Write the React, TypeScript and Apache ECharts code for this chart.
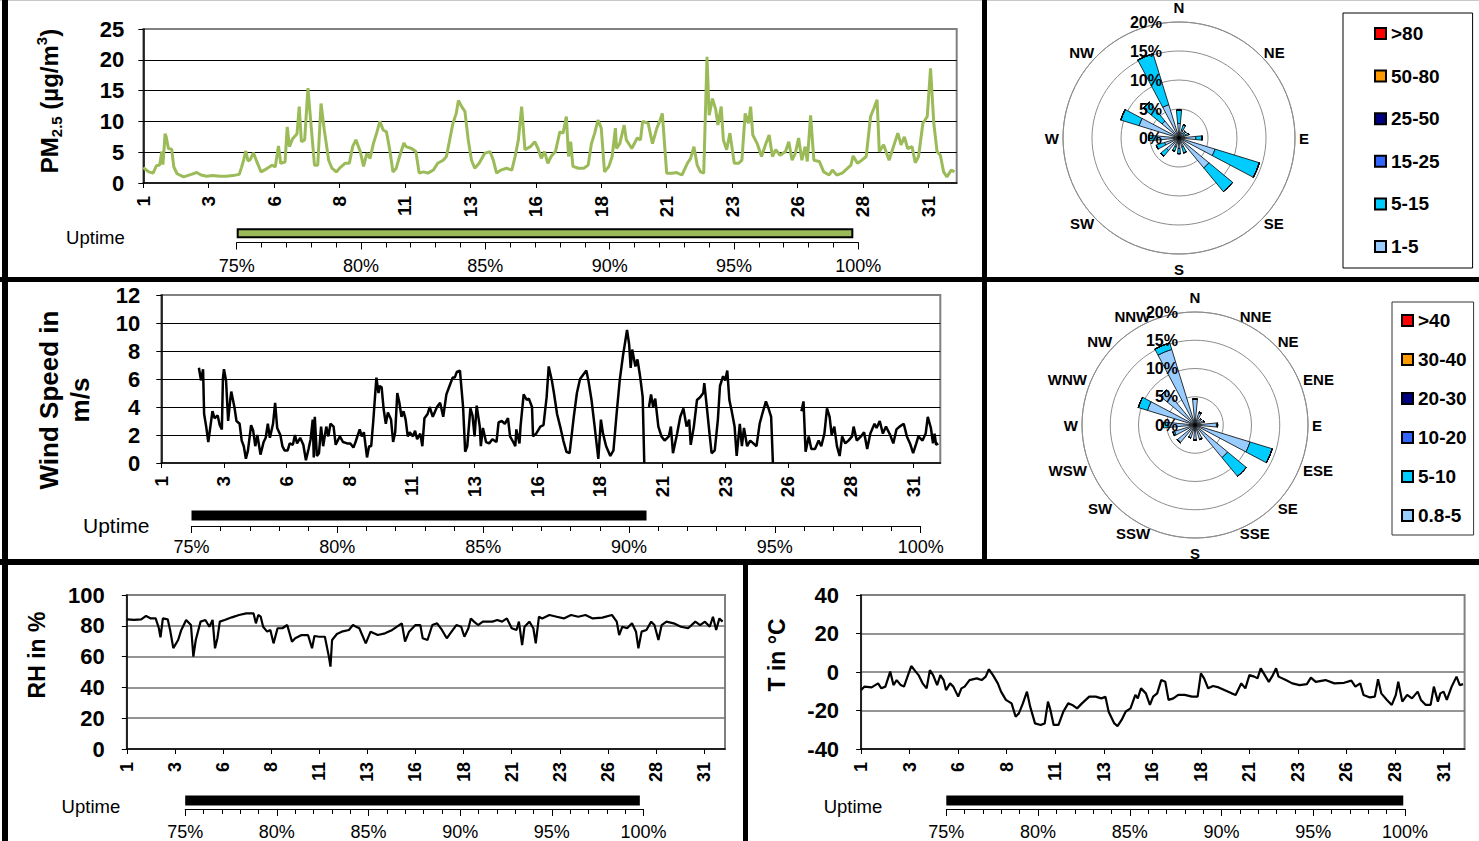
import React, { useEffect, useRef } from 'react';
import * as echarts from 'echarts';

const FONT = '"Liberation Sans", Arial, Helvetica, sans-serif';
const X_MAX = 746;
const UPTIME_MIN = 75;
const dayTicks = ['1', '3', '6', '8', '11', '13', '16', '18', '21', '23', '26', '28', '31'];

// PM2.5 (µg/m³), hour of month -> value
const pmHours = [0, 5, 9, 12, 15, 17, 18, 20, 21, 23, 26, 28, 31, 37, 44, 49, 53, 58, 64, 70, 76, 82, 88, 90, 92, 94, 96, 98, 101, 104, 108, 113, 118, 121, 124, 126, 130, 132, 134, 137, 141, 143, 145, 148, 151, 154, 157, 160, 163, 166, 170, 173, 177, 180, 185, 189, 192, 195, 199, 202, 205, 208, 211, 214, 217, 220, 223, 226, 229, 232, 235, 239, 241, 246, 250, 253, 257, 261, 266, 270, 275, 278, 281, 284, 287, 289, 292, 295, 298, 301, 304, 308, 313, 318, 321, 324, 328, 333, 338, 341, 344, 347, 350, 355, 359, 362, 365, 368, 371, 374, 378, 382, 385, 388, 390, 392, 394, 399, 404, 408, 411, 414, 417, 420, 423, 427, 430, 433, 434, 437, 441, 443, 448, 453, 456, 458, 463, 467, 471, 474, 476, 480, 485, 489, 494, 499, 502, 505, 508, 511, 514, 517, 519, 522, 525, 527, 530, 532, 535, 538, 542, 546, 549, 552, 555, 557, 559, 563, 567, 571, 574, 577, 580, 584, 589, 592, 595, 598, 601, 604, 607, 609, 612, 615, 620, 624, 629, 632, 636, 641, 646, 649, 651, 655, 659, 663, 667, 670, 673, 675, 679, 684, 688, 692, 695, 698, 701, 705, 708, 711, 715, 719, 722, 725, 728, 731, 734, 737, 741, 744];
const pmValues = [2.5, 1.8, 1.6, 2.8, 2.9, 5.1, 3.0, 8.0, 7.5, 5.6, 5.5, 2.6, 1.5, 1.0, 1.4, 1.7, 1.3, 1.1, 1.2, 1.1, 1.1, 1.2, 1.4, 2.5, 3.7, 5.2, 3.6, 3.8, 4.9, 3.5, 1.8, 2.3, 2.9, 2.6, 6.0, 3.2, 3.4, 9.1, 5.9, 7.2, 8.0, 12.4, 6.7, 7.0, 15.4, 9.1, 2.9, 2.9, 12.9, 8.6, 3.7, 2.4, 1.8, 2.4, 3.2, 3.2, 5.9, 7.0, 5.1, 2.7, 4.8, 4.0, 6.4, 8.1, 10.0, 8.6, 8.3, 5.4, 1.8, 2.4, 4.3, 6.5, 5.9, 5.6, 5.1, 1.6, 1.8, 1.6, 2.1, 3.2, 3.7, 4.3, 7.0, 9.7, 11.3, 13.4, 12.4, 11.6, 7.0, 3.7, 2.4, 3.2, 4.8, 5.1, 3.7, 1.6, 2.1, 2.4, 2.1, 4.3, 7.0, 12.4, 5.4, 5.9, 6.7, 5.6, 4.0, 5.1, 3.2, 4.3, 5.1, 8.3, 8.1, 10.8, 4.3, 6.7, 2.7, 2.4, 2.4, 2.9, 6.4, 8.1, 10.2, 8.9, 1.8, 2.7, 4.3, 8.9, 5.6, 6.4, 9.4, 7.0, 5.6, 7.3, 7.0, 10.0, 9.7, 6.4, 8.9, 10.2, 11.3, 1.6, 1.6, 1.7, 1.3, 3.2, 4.0, 5.9, 2.9, 1.8, 1.6, 20.5, 11.0, 13.7, 11.9, 9.4, 12.4, 7.0, 5.4, 8.1, 3.2, 3.2, 3.7, 11.3, 9.7, 12.4, 7.8, 6.4, 4.3, 6.4, 7.8, 4.3, 5.4, 4.5, 5.1, 6.7, 3.7, 4.8, 7.3, 3.7, 5.9, 3.5, 11.0, 3.7, 3.5, 1.8, 1.3, 2.1, 1.3, 1.6, 2.4, 2.9, 4.4, 3.2, 3.7, 4.3, 10.8, 12.1, 13.5, 5.1, 6.2, 3.7, 5.9, 8.1, 6.2, 7.5, 5.6, 5.9, 3.3, 4.3, 9.7, 10.8, 18.6, 9.7, 5.1, 4.5, 1.8, 1.0, 2.1, 1.8];

// Wind speed (m/s); null = no data
const windHours = [36, 38, 40, 41, 43, 45, 47, 49, 51, 54, 56, 58, 59, 60, 62, 64, 66, 67, 70, 72, 75, 77, 79, 81, 83, 86, 88, 90, 92, 95, 98, 100, 102, 104, 107, 109, 111, 114, 116, 118, 121, 123, 126, 128, 130, 133, 136, 138.5, 141, 143, 145, 146, 147, 149, 151, 153, 155, 158, 160, 162, 165, 167, 171, 174, 178, 181, 184, 186, 190, 192, 194, 197, 199, 201, 203, 205, 206, 208, 209, 211, 213, 215, 217, 220, 222, 224, 226, 228, 230, 232, 234, 236, 238, 241, 243, 245, 248, 250, 252, 255, 257, 260, 264, 267, 270, 273, 276, 279, 281, 283, 286, 289, 291, 293, 296, 298, 300, 302, 305, 306, 308, 311, 314, 317, 321, 323, 326, 329, 332, 334, 337, 339, 340, 343, 344, 347, 350, 352, 355, 356, 359, 363, 366, 369, 371, 374, 376, 379, 382, 385, 388, 391, 395, 398, 401, 404, 407, 409, 412, 415, 418.5, 421, 423, 426, 430, 433, 436, 439, 442, 446, 448, 449.5, 451, 454, 456, 458.5, 461, 462.5, 465, 467, 469, 471, 473, 476, 479, 482, 486, 488, 490, 494, 497, 500, 503, 505.5, 507, 510, 513, 516, 519, 520, 522, 525, 527, 530, 533, 535, 538, 540, 542, 544, 546, 549, 551, 554, 556, 558, 561, 564, 567, 570, 573, 575.5, 579, 581.5, 584, 585.7, 600, 613, 615, 617, 620, 622.5, 626, 629.5, 632, 635, 637.5, 640, 642, 644.5, 647, 649.6, 652, 655, 658, 661.5, 663, 666, 670, 673, 676, 679, 683, 685, 688, 691, 694, 698, 701, 704, 707, 711, 714, 717, 720, 723, 725, 729, 732, 734, 737, 739, 740.5, 742, 744];
const windValues = [6.8, 5.9, 6.7, 3.5, 2.6, 1.5, 2.6, 3.7, 3.2, 3.4, 2.7, 2.4, 6.0, 6.7, 5.9, 3.0, 4.5, 5.1, 4.0, 3.0, 2.8, 1.6, 1.2, 0.3, 0.9, 2.7, 2.3, 1.2, 2.0, 0.6, 1.5, 1.8, 2.8, 1.8, 2.8, 4.3, 2.5, 2.0, 1.2, 0.9, 0.9, 1.4, 1.3, 2.0, 1.4, 1.8, 1.3, 0.2, 1.0, 1.7, 3.1, 0.4, 3.3, 0.5, 0.7, 2.6, 1.2, 2.6, 1.9, 2.8, 2.6, 1.3, 1.9, 1.5, 1.4, 1.4, 1.1, 1.5, 2.4, 1.9, 2.2, 0.4, 1.2, 1.2, 3.0, 5.1, 6.1, 5.0, 5.5, 5.4, 3.8, 2.8, 3.6, 3.1, 1.5, 2.2, 5.0, 4.3, 3.3, 3.7, 3.1, 1.9, 2.2, 1.9, 2.3, 1.7, 2.1, 1.2, 3.2, 3.5, 4.0, 3.3, 4.0, 4.3, 3.3, 4.9, 5.5, 6.1, 6.1, 6.5, 6.6, 4.0, 0.8, 1.2, 3.9, 3.4, 1.9, 4.1, 2.6, 1.2, 2.5, 1.5, 1.4, 1.7, 1.5, 2.9, 3.0, 2.8, 3.2, 1.9, 1.5, 1.2, 2.4, 1.4, 2.6, 4.9, 4.5, 4.6, 4.0, 1.9, 2.1, 2.6, 2.7, 4.7, 6.9, 5.9, 5.0, 3.5, 2.6, 1.6, 0.8, 0.7, 3.3, 5.0, 6.0, 6.3, 6.6, 5.9, 4.5, 2.6, 0.3, 3.1, 2.1, 1.2, 0.5, 0.9, 3.5, 5.9, 7.6, 9.5, 8.5, 6.8, 8.1, 6.9, 7.4, 6.2, 4.7, 0, null, 4.0, 4.9, 4.0, 4.6, 2.6, 1.9, 1.6, 1.9, 2.6, 0.7, 2.1, 3.3, 3.9, 2.6, 3.1, 1.3, 2.6, 4.5, 4.7, 5.0, 5.7, 4.3, 2.1, 0.7, 0.9, 3.1, 5.5, 6.2, 5.9, 6.6, 4.5, 3.8, 2.6, 0.5, 2.8, 1.2, 2.5, 1.2, 1.6, 1.4, 1.2, 2.8, 3.5, 4.4, 3.9, 3.3, 0, null, 3.7, 4.4, 0.8, 1.9, 1.0, 1.0, 1.6, 1.2, 2.1, 3.9, 3.3, 2.0, 2.6, 1.2, 0.5, 1.9, 1.4, 1.6, 1.9, 2.6, 1.6, 1.9, 2.2, 1.0, 2.1, 2.8, 2.5, 3.0, 2.1, 2.6, 2.0, 1.4, 2.4, 2.6, 2.8, 1.9, 1.4, 0.7, 1.4, 1.9, 1.6, 2.1, 3.3, 2.5, 1.4, 2.1, 1.3, 1.4];

// Relative humidity (%)
const rhHours = [0, 9, 18, 24, 30, 36, 40, 42, 45, 51, 54, 58, 64, 68, 74, 80, 83, 86, 92, 98, 103, 107, 110, 113, 116, 122, 131, 140, 149, 158, 161, 164, 167, 170, 175, 179, 183, 188, 194, 200, 206, 210, 218, 226, 231, 234, 240, 247, 252, 254, 256, 262, 268, 277, 282, 286, 290, 298, 304, 313, 322, 331, 343, 347, 352, 360, 366, 369, 375, 381, 387, 393, 399, 405, 411, 417, 421, 426, 429, 433, 438, 444, 450, 456, 462, 468, 474, 480, 486, 489, 493, 496, 502, 507, 510, 514, 518, 527, 536, 545, 554, 563, 572, 581, 593, 605, 611, 614, 618, 624, 630, 635, 638, 642, 648, 654, 658, 663, 667, 673, 682, 691, 700, 709, 715, 721, 727, 731, 735, 739, 743];
const rhValues = [84.2, 83.8, 84.2, 86.4, 84.8, 84.8, 78.4, 72.5, 84.8, 84.2, 77.3, 65.5, 70.8, 77.3, 83.8, 80.5, 60.0, 70.8, 82.7, 83.8, 79.4, 83.8, 65.4, 71.9, 82.7, 83.8, 85.5, 87.0, 88.1, 88.1, 81.6, 87.0, 85.9, 79.4, 76.2, 77.3, 68.6, 78.4, 78.4, 80.5, 69.7, 71.9, 74.0, 74.0, 65.4, 73.4, 72.9, 72.9, 60.0, 53.5, 70.8, 74.7, 76.2, 77.3, 80.5, 79.4, 78.4, 68.6, 76.2, 74.0, 75.1, 77.3, 81.6, 69.7, 76.2, 80.5, 80.5, 71.9, 70.8, 80.5, 81.6, 77.3, 71.9, 76.2, 80.5, 79.4, 72.9, 78.4, 84.8, 82.7, 80.5, 82.7, 82.7, 82.7, 83.8, 82.7, 84.8, 78.4, 77.3, 82.7, 67.5, 79.4, 82.7, 78.4, 68.6, 85.9, 84.8, 87.0, 85.9, 84.8, 87.0, 85.9, 87.0, 84.8, 85.3, 87.0, 82.7, 74.0, 79.4, 78.4, 81.6, 76.2, 65.4, 76.2, 77.3, 82.7, 80.5, 70.8, 80.5, 82.7, 81.6, 79.4, 78.4, 82.7, 80.5, 82.7, 79.4, 85.9, 77.3, 84.8, 82.7];

// Temperature (°C)
const tHours = [0, 4, 13, 21, 25, 30, 36, 40, 44, 49, 53, 58, 62, 66, 71, 76, 81, 85, 89, 94, 98, 102, 105, 110, 114, 120, 124, 128, 134, 143, 149, 154, 158, 163, 169, 173, 179, 186, 191, 195, 200, 205, 209, 215, 222, 227, 231, 234, 238, 244, 250, 256, 261, 267, 273, 282, 290, 297, 302, 306, 313, 317, 322, 327, 333, 339, 342, 346, 352, 357, 361, 366, 371, 376, 380, 386, 392, 400, 409, 416, 420, 424, 429, 435, 442, 449, 458, 463, 470, 475, 480, 486, 490, 494, 499, 504, 509, 513, 516, 525, 533, 542, 551, 556, 562, 574, 585, 597, 606, 611, 617, 621, 629, 635, 639, 643, 650, 656, 661, 664, 669, 675, 681, 688, 692, 698, 704, 708, 713, 716, 720, 724, 730, 736, 740, 744];
const tValues = [-9.4, -7.6, -8.0, -5.9, -8.5, -7.6, 0.2, -6.8, -4.2, -6.8, -7.6, -1.6, 3.1, 1.0, -1.6, -5.9, -8.5, 1.0, -1.6, -6.8, -1.6, -4.2, -9.4, -5.9, -7.6, -12.8, -8.5, -7.6, -4.2, -3.3, -4.2, -2.4, 1.4, -1.6, -5.9, -10.2, -14.5, -16.3, -23.2, -21.5, -16.3, -10.2, -18.0, -26.7, -27.5, -26.7, -15.4, -19.7, -27.5, -27.5, -20.6, -16.3, -17.1, -18.9, -16.3, -12.8, -12.8, -13.7, -12.8, -20.6, -26.7, -28.1, -24.9, -20.6, -18.9, -11.9, -13.7, -8.5, -11.1, -17.1, -12.8, -11.1, -4.2, -5.1, -14.5, -13.7, -11.9, -11.9, -12.8, -12.8, -0.7, -3.3, -8.5, -7.3, -8.0, -9.4, -11.1, -11.9, -5.9, -8.5, -1.6, -2.4, -3.3, 1.9, -1.6, -5.1, -1.6, 1.9, -2.4, -4.2, -5.9, -6.8, -6.3, -2.9, -5.1, -4.2, -5.9, -5.6, -4.5, -7.6, -5.9, -11.9, -13.2, -12.8, -3.8, -11.1, -14.5, -17.1, -11.9, -5.1, -15.4, -11.9, -13.7, -10.2, -14.5, -17.1, -17.1, -7.6, -15.4, -11.1, -10.2, -14.5, -7.6, -2.4, -6.8, -6.3];

// Uptime (%) for PM2.5, wind, RH, T
const uptimeValues = [99.8, 90.6, 99.8, 99.9];

// Wind roses
const directions = ['N', 'NNE', 'NE', 'ENE', 'E', 'ESE', 'SE', 'SSE', 'S', 'SSW', 'SW', 'WSW', 'W', 'WNW', 'NW', 'NNW'];
const rose1Classes = ['1-5', '5-15', '15-25', '25-50', '50-80', '>80'];
const rose1Colors = ['#99CCFF', '#00CCFF', '#3366FF', '#000080', '#FF9900', '#FF0000'];
const rose1_1_5 = [2.5, 1.4, 1.0, 1.2, 2.9, 6.5, 6.7, 1.6, 1.8, 1.6, 2.8, 2.6, 3.8, 7.2, 3.8, 6.0];
const rose1_5_15 = [2.3, 1.0, 0.5, 0.6, 1.1, 8.0, 5.3, 1.1, 0.9, 0.8, 1.3, 1.5, 1.4, 3.3, 4.2, 9.2];
const rose1_15_25 = [0, 0, 0, 0, 0, 0, 0, 0, 0, 0, 0, 0, 0, 0, 0, 0];
const rose1_25_50 = [0, 0, 0, 0, 0, 0, 0, 0, 0, 0, 0, 0, 0, 0, 0, 0];
const rose1_50_80 = [0, 0, 0, 0, 0, 0, 0, 0, 0, 0, 0, 0, 0, 0, 0, 0];
const rose1_80 = [0, 0, 0, 0, 0, 0, 0, 0, 0, 0, 0, 0, 0, 0, 0, 0];

const rose2Classes = ['0.8-5', '5-10', '10-20', '20-30', '30-40', '>40'];
const rose2Colors = ['#99CCFF', '#00CCFF', '#3366FF', '#000080', '#FF9900', '#FF0000'];
const rose2_08_5 = [4.6, 2.2, 1.5, 1.7, 3.8, 10.2, 7.5, 2.6, 2.7, 2.4, 4.0, 3.8, 4.8, 8.8, 8.0, 14.0];
const rose2_5_10 = [0, 0.2, 0, 0, 0.2, 4.1, 4.3, 0.1, 0, 0, 0.1, 0.3, 0.8, 1.7, 0, 1.2];
const rose2_10_20 = [0, 0, 0, 0, 0, 0, 0, 0, 0, 0, 0, 0, 0, 0, 0, 0];
const rose2_20_30 = [0, 0, 0, 0, 0, 0, 0, 0, 0, 0, 0, 0, 0, 0, 0, 0];
const rose2_30_40 = [0, 0, 0, 0, 0, 0, 0, 0, 0, 0, 0, 0, 0, 0, 0, 0];
const rose2_40 = [0, 0, 0, 0, 0, 0, 0, 0, 0, 0, 0, 0, 0, 0, 0, 0];

const rose1Data = [rose1_1_5, rose1_5_15, rose1_15_25, rose1_25_50, rose1_50_80, rose1_80];
const rose2Data = [rose2_08_5, rose2_5_10, rose2_10_20, rose2_20_30, rose2_30_40, rose2_40];

const pairs = (h: number[], v: (number | null)[]) => h.map((x, i) => [x, v[i] === null ? '-' : v[i]]);

function timeX(gridIndex: number, fontSize: number) {
  return {
    type: 'value', gridIndex, min: 0, max: X_MAX, interval: 60,
    axisLine: { show: true, onZero: false, lineStyle: { color: '#000', width: 1.5 } },
    axisTick: { show: true, length: 5, lineStyle: { color: '#000', width: 1 } },
    splitLine: { show: false },
    axisLabel: {
      rotate: 90, margin: 13, fontSize, fontWeight: 'bold', color: '#000', fontFamily: FONT,
      showMaxLabel: false,
      formatter: (v: number) => (v % 60 === 0 && dayTicks[v / 60] !== undefined ? dayTicks[v / 60] : ''),
    },
  };
}

function valueY(gridIndex: number, min: number, max: number, interval: number, gridColor: string, gridWidth: number, margin: number) {
  return {
    type: 'value', gridIndex, min, max, interval,
    axisLine: { show: true, onZero: false, lineStyle: { color: '#000', width: 1.5 } },
    axisTick: { show: true, length: 5, lineStyle: { color: '#000' } },
    splitLine: { show: true, showMinLine: false, showMaxLine: false, lineStyle: { color: gridColor, width: gridWidth } },
    axisLabel: { fontSize: 22, fontWeight: 'bold', color: '#000', fontFamily: FONT, margin },
  };
}

function uptimeX(gridIndex: number, margin: number) {
  return {
    type: 'value', gridIndex, min: UPTIME_MIN, max: 100, interval: 5,
    axisLine: { show: true, onZero: false, lineStyle: { color: '#000', width: 1 } },
    axisTick: { show: true, length: 7, lineStyle: { color: '#000', width: 1 } },
    minorTick: { show: true, splitNumber: 5, length: 5, lineStyle: { color: '#000', width: 1 } },
    splitLine: { show: false },
    axisLabel: { formatter: '{value}%', fontSize: 18, color: '#000', fontFamily: FONT, margin },
  };
}

function uptimeY(gridIndex: number, margin: number, fontSize: number, shift: number) {
  return {
    type: 'category', gridIndex, data: ['Uptime'],
    axisLine: { show: false }, axisTick: { show: false }, splitLine: { show: false },
    axisLabel: { fontSize, color: '#000', fontFamily: FONT, margin, verticalAlign: 'top', lineHeight: 2 * shift },
  };
}

function uptimeSeries(k: number, fill: string) {
  return [
    { type: 'bar', xAxisIndex: 2 * k + 1, yAxisIndex: 2 * k + 1, stack: 'up' + k, data: [UPTIME_MIN], barWidth: 10, silent: true, itemStyle: { color: 'rgba(0,0,0,0)' } },
    { type: 'bar', xAxisIndex: 2 * k + 1, yAxisIndex: 2 * k + 1, stack: 'up' + k, data: [uptimeValues[k] - UPTIME_MIN], barWidth: 10, clip: false, itemStyle: { color: fill, borderColor: '#000', borderWidth: 2 } },
  ];
}

function roseSeries(polarIndex: number, names: string[], colors: string[], data: number[][], stack: string) {
  return names.map((name, i) => ({
    type: 'bar', coordinateSystem: 'polar', polarIndex, stack, name, data: data[i],
    barCategoryGap: '52%', z: 3,
    itemStyle: { color: colors[i], borderColor: '#000', borderWidth: 0.8 },
  }));
}

const hiddenAngle = (polarIndex: number) => ({
  polarIndex, type: 'value', min: 0, max: 360, startAngle: 90,
  axisLine: { show: false }, axisTick: { show: false }, axisLabel: { show: false }, splitLine: { show: false },
});

const roseAngle = (polarIndex: number, labelInterval: number, fontSize: number) => ({
  polarIndex, type: 'category',
  data: directions.map((d) => (d === 'N' || d === 'S' ? { value: d, textStyle: { lineHeight: 22 } } : d)),
  startAngle: 90 + 360 / directions.length / 2, clockwise: true,
  axisLine: { show: true, lineStyle: { color: '#8c8c8c', width: 1 } },
  axisTick: { show: false }, splitLine: { show: false },
  axisLabel: { interval: labelInterval, margin: 4, lineHeight: 1, fontSize, fontWeight: 'bold', color: '#000', fontFamily: FONT },
});

const ringRadius = (polarIndex: number) => ({
  polarIndex, type: 'value', min: 0, max: 20, interval: 5,
  axisLine: { show: false }, axisTick: { show: false }, axisLabel: { show: false },
  splitLine: { show: true, lineStyle: { color: '#8c8c8c', width: 1 } },
});

const labelRadius = (polarIndex: number) => ({
  polarIndex, type: 'value', min: 0, max: 20, interval: 5, z: 10,
  axisLine: { show: false }, axisTick: { show: false }, splitLine: { show: false },
  axisLabel: { formatter: '{value}%', fontSize: 16, fontWeight: 'bold', color: '#000', fontFamily: FONT, margin: 17 },
});

function buildOption() {
  const grids = [
    { left: 143.3, top: 29, width: 813.4, height: 154, show: true, borderColor: '#808080', borderWidth: 2 },
    { left: 236.7, top: 224, width: 621.6, height: 18.5 },
    { left: 161.3, top: 295, width: 779, height: 168, show: true, borderColor: '#808080', borderWidth: 2 },
    { left: 191.5, top: 505, width: 729.2, height: 21 },
    { left: 126.8, top: 595, width: 598.2, height: 154, show: true, borderColor: '#808080', borderWidth: 2 },
    { left: 185.2, top: 792, width: 458.3, height: 18 },
    { left: 861.1, top: 595, width: 603.5, height: 154, show: true, borderColor: '#808080', borderWidth: 2 },
    { left: 946.3, top: 792, width: 458.8, height: 18 },
  ];
  const xAxis = [
    timeX(0, 19), uptimeX(1, 14),
    timeX(2, 19), uptimeX(3, 12),
    timeX(4, 18), uptimeX(5, 14),
    timeX(6, 18), uptimeX(7, 14),
  ];
  const yAxis = [
    valueY(0, 0, 25, 5, '#000', 1, 19), uptimeY(1, 112, 18.5, 4),
    valueY(2, 0, 12, 2, '#000', 1, 21), uptimeY(3, 42, 21, 10),
    valueY(4, 0, 100, 20, '#707070', 1.5, 22), uptimeY(5, 65, 18.5, 6),
    valueY(6, -40, 40, 20, '#707070', 1.5, 22), uptimeY(7, 64, 18.5, 6),
  ];
  const line = (idx: number, data: any[], color: string, width: number) => ({
    type: 'line', xAxisIndex: idx, yAxisIndex: idx, data, showSymbol: false, symbol: 'none',
    connectNulls: false, z: 3, lineStyle: { color, width }, itemStyle: { color },
  });

  const series: any[] = [
    line(0, pairs(pmHours, pmValues), '#9BBB59', 3),
    line(2, pairs(windHours, windValues), '#000', 2.5),
    line(4, pairs(rhHours, rhValues), '#000', 2.2),
    line(6, pairs(tHours, tValues), '#000', 2.2),
    ...uptimeSeries(0, '#9BBB59'),
    ...uptimeSeries(1, '#000'),
    ...uptimeSeries(2, '#000'),
    ...uptimeSeries(3, '#000'),
    ...roseSeries(0, rose1Classes, rose1Colors, rose1Data, 'rose1'),
    ...roseSeries(2, rose2Classes, rose2Colors, rose2Data, 'rose2'),
  ];

  const legendText = { fontSize: 19, fontWeight: 'bold', fontFamily: FONT, color: '#000' };

  const frame = (x: number, y: number, w: number, h: number, fill = '#000') => ({
    type: 'rect', shape: { x, y, width: w, height: h }, style: { fill }, silent: true, z: 100,
  });

  const title = (x: number, y: number, text: string, fontSize: number, lineHeight: number) => ({
    type: 'text', x, y, rotation: Math.PI / 2, silent: true,
    style: { text, fill: '#000', font: `bold ${fontSize}px ${FONT}`, align: 'center', verticalAlign: 'middle', lineHeight },
  });

  return {
    animation: false,
    backgroundColor: '#fff',
    grid: grids,
    xAxis, yAxis,
    polar: [
      { center: [1179, 138], radius: 116 },
      { center: [1179, 138], radius: 116 },
      { center: [1195, 425], radius: 113 },
      { center: [1195, 425], radius: 113 },
    ],
    angleAxis: [roseAngle(0, 1, 15), hiddenAngle(1), roseAngle(2, 0, 15), hiddenAngle(3)],
    radiusAxis: [ringRadius(0), labelRadius(1), ringRadius(2), labelRadius(3)],
    legend: [
      {
        data: [...rose1Classes].reverse(), orient: 'vertical', left: 1343, top: 13,
        itemWidth: 11, itemHeight: 11, itemGap: 23.6, icon: 'rect', selectedMode: false,
        padding: [11, 33, 12, 31], borderColor: '#000', borderWidth: 1, textStyle: legendText,
      },
      {
        data: [...rose2Classes].reverse(), orient: 'vertical', left: 1392, top: 302,
        itemWidth: 11, itemHeight: 11, itemGap: 20, icon: 'rect', selectedMode: false,
        padding: [9, 7, 10, 9], borderColor: '#333', borderWidth: 1, textStyle: legendText,
      },
    ],
    graphic: [
      frame(0, 0, 1479, 1, '#c8c8c8'),
      frame(2, 0, 6, 841),
      frame(0, 277, 1479, 5),
      frame(0, 559, 1479, 6),
      frame(982, 0, 5, 562),
      frame(743, 562, 5, 279),
      {
        type: 'text', x: 49, y: 101, rotation: Math.PI / 2, silent: true,
        style: {
          text: '{a|PM}{s|2.5}{a| (µg/m}{p|3}{a|)}', fill: '#000', align: 'center', verticalAlign: 'middle',
          rich: {
            a: { fontSize: 24, fontWeight: 'bold', fontFamily: FONT, lineHeight: 30, fill: '#000' },
            s: { fontSize: 15, fontWeight: 'bold', fontFamily: FONT, lineHeight: 17, verticalAlign: 'bottom', fill: '#000' },
            p: { fontSize: 15, fontWeight: 'bold', fontFamily: FONT, lineHeight: 17, verticalAlign: 'top', fill: '#000' },
          },
        },
      },
      title(64, 400, 'Wind Speed in\nm/s', 26, 31),
      title(37, 655, 'RH in %', 23, 26),
      title(777, 655, 'T in °C', 23, 26),
    ],
    series,
  };
}

export default function App() {
  const ref = useRef<HTMLDivElement>(null);
  useEffect(() => {
    document.body.style.margin = '0';
    const chart = echarts.init(ref.current as HTMLDivElement, null, { renderer: 'svg' });
    chart.setOption(buildOption() as any);
    return () => chart.dispose();
  }, []);
  return <div ref={ref} style={{ width: 1479, height: 841, background: '#fff' }} />;
}
